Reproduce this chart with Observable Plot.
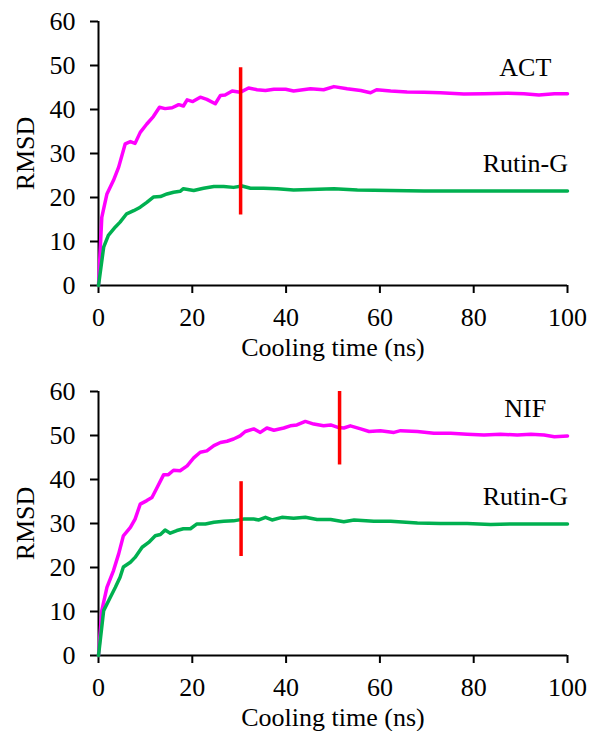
<!DOCTYPE html>
<html>
<head>
<meta charset="utf-8">
<script src="https://cdn.jsdelivr.net/npm/d3@7"></script>
<script src="https://cdn.jsdelivr.net/npm/@observablehq/plot@0.6"></script>
<style>
  body { margin: 0; background: #fff; }
  #chart > div, #chart svg { display: block; }
  #chart svg text { font-family: "Liberation Serif", "Times New Roman", serif !important; }
</style>
</head>
<body>
<div id="chart"></div>
<script>
// ---- data ----
const xTicks = [0, 20, 40, 60, 80, 100];
const yTicks = [0, 10, 20, 30, 40, 50, 60];
const xLabel = "Cooling time (ns)";
const yLabel = "RMSD";

// Panel 1: ACT and Rutin-G
const actTime = [0,0.7,1.8,3.2,4.3,5.7,6.8,7.8,8.9,10.3,11.7,13.0,14.2,15.7,17.1,18.1,18.9,20.1,21.7,23.1,24.9,26.0,27.0,28.5,30.2,32.0,33.8,35.6,37.4,39.9,41.6,45.2,48.0,50.2,53.0,55.9,58.0,59.3,62.3,65.8,69.4,72.9,77.9,82.2,87.2,90.7,93.9,97.2,100];
const actRmsd = [0,15.5,20.8,23.9,26.9,32.2,32.7,32.3,34.8,36.7,38.4,40.5,40.2,40.4,41.1,40.8,42.2,41.8,42.8,42.3,41.3,43.2,43.3,44.2,43.9,44.9,44.5,44.3,44.6,44.6,44.2,44.7,44.5,45.2,44.7,44.3,43.8,44.5,44.2,44.0,43.9,43.8,43.5,43.6,43.7,43.6,43.3,43.6,43.6];
const rutin1Time = [0,1.1,2.1,3.6,4.6,6.0,7.5,8.9,10.3,11.7,13.2,14.6,16.0,17.4,18.1,20.3,22.4,24.6,26.7,28.8,30.6,32.4,35.2,38.1,41.6,45.2,50.2,55.2,62.3,69.4,76.5,83.6,90.7,100];
const rutin1Rmsd = [0,8.7,11.4,13.3,14.4,16.3,17.0,17.8,18.9,20.1,20.2,20.8,21.2,21.4,22.0,21.6,22.1,22.5,22.5,22.3,22.6,22.1,22.1,22.0,21.7,21.8,22.0,21.7,21.6,21.5,21.5,21.5,21.5,21.5];
const markers1 = [{x: 30.3, y1: 16, y2: 49.5}];

// Panel 2: NIF and Rutin-G
const nifTime = [0,0.7,1.8,3.2,4.3,5.3,6.8,7.8,8.9,10.3,11.4,12.5,13.9,14.9,16.0,17.4,18.9,20.3,21.7,23.1,24.6,26.0,27.4,28.8,30.2,31.3,33.1,34.5,35.9,37.4,39.5,40.9,42.3,44.1,45.9,48.0,49.5,51.2,52.3,53.7,55.9,57.7,60.1,63.0,64.4,68.0,71.5,75.1,78.6,82.2,85.7,89.3,92.2,95.0,97.2,100];
const nifRmsd = [0,10.2,15.5,19.3,23.1,27.2,29.1,31.0,34.4,35.2,35.9,38.2,41.1,41.1,42.1,42.0,43.1,44.9,46.2,46.5,47.7,48.4,48.7,49.2,49.9,50.9,51.5,50.7,51.7,51.2,51.7,52.2,52.4,53.2,52.6,52.2,52.4,51.8,51.7,52.2,51.5,50.9,51.1,50.7,51.1,50.9,50.5,50.5,50.3,50.1,50.3,50.1,50.3,50.1,49.7,49.9];
const rutin2Time = [0,1.1,2.5,3.6,4.6,5.3,6.8,7.8,9.3,10.7,12.1,13.2,14.2,15.3,16.7,18.1,19.6,21.0,22.8,24.6,26.7,28.8,30.9,33.1,34.2,35.6,37.0,39.1,41.6,44.1,46.6,49.5,52.3,54.5,58.7,62.3,68.0,72.9,78.6,83.6,89.3,94.3,100];
const rutin2Rmsd = [0,10.2,13.2,15.5,17.8,20.1,21.2,22.3,24.6,25.7,27.2,27.5,28.5,27.8,28.4,28.8,28.8,29.9,29.9,30.3,30.5,30.6,31.0,31.0,30.8,31.4,30.8,31.4,31.2,31.4,30.9,30.9,30.4,30.8,30.5,30.5,30.1,30.0,30.0,29.8,29.9,29.9,29.9];
const markers2 = [{x: 30.4, y1: 22.5, y2: 39.5}, {x: 51.4, y1: 43.3, y2: 60}];

const MAGENTA = "#FF00FF", GREEN = "#00B050", RED = "#FF0000";
const FONT = "'Liberation Serif', 'Times New Roman', serif";
const zip = (xs, ys) => xs.map((x, i) => ({x, y: ys[i]}));

function panel({lines, markers, labels, height, marginTop, marginBottom}) {
  return Plot.plot({
    width: 598,
    height,
    marginLeft: 98,
    marginRight: 31,
    marginTop,
    marginBottom,
    style: {fontFamily: FONT, fontSize: "26px", color: "#000", background: "#fff"},
    x: {domain: [0, 100]},
    y: {domain: [0, 60]},
    marks: [
      Plot.axisX({ticks: xTicks, tickSize: 8, tickPadding: 14, strokeWidth: 2, fontSize: 26, fontFamily: FONT, label: null}),
      Plot.axisY({ticks: yTicks, tickSize: 8, tickPadding: 15, strokeWidth: 2, fontSize: 26, fontFamily: FONT, label: null}),
      Plot.ruleX([0], {stroke: "#000", strokeWidth: 2}),
      Plot.ruleY([0], {stroke: "#000", strokeWidth: 2}),
      ...lines.map(l => Plot.line(zip(l.time, l.rmsd), {x: "x", y: "y", stroke: l.color, strokeWidth: 3.5})),
      Plot.ruleX(markers, {x: "x", y1: "y1", y2: "y2", stroke: RED, strokeWidth: 3.5}),
      Plot.text(labels, {x: "x", y: "y", text: "text", fontSize: 26, fontFamily: FONT, textAnchor: "middle", lineAnchor: "middle", fill: "#000"}),
      Plot.text([xLabel], {frameAnchor: "bottom", dy: 62, fontSize: 26, fontFamily: FONT, textAnchor: "middle", lineAnchor: "middle", fill: "#000"}),
      Plot.text([yLabel], {frameAnchor: "left", dx: -73, rotate: -90, fontSize: 26, fontFamily: FONT, textAnchor: "middle", lineAnchor: "middle", fill: "#000"})
    ]
  });
}

const chart = document.getElementById("chart");
chart.append(panel({
  lines: [
    {time: actTime, rmsd: actRmsd, color: MAGENTA},
    {time: rutin1Time, rmsd: rutin1Rmsd, color: GREEN}
  ],
  markers: markers1,
  labels: [{x: 91, y: 49.6, text: "ACT"}, {x: 91, y: 27.6, text: "Rutin-G"}],
  height: 365, marginTop: 21, marginBottom: 80
}));
chart.append(panel({
  lines: [
    {time: nifTime, rmsd: nifRmsd, color: MAGENTA},
    {time: rutin2Time, rmsd: rutin2Rmsd, color: GREEN}
  ],
  markers: markers2,
  labels: [{x: 91, y: 56.0, text: "NIF"}, {x: 91, y: 36.2, text: "Rutin-G"}],
  height: 366, marginTop: 26, marginBottom: 76
}));
</script>
</body>
</html>
